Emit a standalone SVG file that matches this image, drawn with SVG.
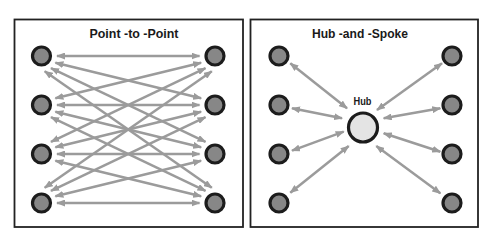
<svg xmlns="http://www.w3.org/2000/svg" width="494" height="239" viewBox="0 0 494 239">
<style>
.frame{fill:#fff;stroke:#222;stroke-width:1.8}
.node{fill:#878787;stroke:#1c1c1c;stroke-width:3.2}
.hub{fill:#e4e4e4;stroke:#1c1c1c;stroke-width:3.2}
.link{stroke:#9b9b9b;stroke-width:2.5;fill:none;marker-start:url(#ah);marker-end:url(#ah)}
.title{font-family:"Liberation Sans",Arial,sans-serif;font-weight:bold;font-size:12.5px;fill:#1a1a1a;text-anchor:middle}
.lbl{font-family:"Liberation Sans",Arial,sans-serif;font-weight:bold;font-size:10.5px;fill:#1a1a1a;text-anchor:middle}
</style>
<defs>
<marker id="ah" viewBox="0 0 9 7" refX="8" refY="3.5" markerWidth="9" markerHeight="7" markerUnits="userSpaceOnUse" orient="auto-start-reverse">
<path d="M0,0 L9,3.5 L0,7 z" fill="#9b9b9b"/>
</marker>
</defs>
<rect width="494" height="239" fill="#fff"/>
<g id="panel-p2p">
<rect class="frame" x="14.5" y="19.5" width="228.5" height="207.5"/>
<text class="title" x="134" y="38" textLength="89" lengthAdjust="spacingAndGlyphs">Point -to -Point</text>
</g>
<g id="panel-hub">
<rect class="frame" x="250.5" y="19.5" width="227.5" height="207.5"/>
<text class="title" x="360" y="38" textLength="96" lengthAdjust="spacingAndGlyphs">Hub -and -Spoke</text>
</g>
<g id="connectors">
<line class="link" x1="57" y1="56" x2="199.5" y2="56"/>
<line class="link" x1="57" y1="105" x2="199.5" y2="105"/>
<line class="link" x1="57" y1="154" x2="199.5" y2="154"/>
<line class="link" x1="57" y1="203" x2="199.5" y2="203"/>
<line class="link" x1="55.4" y1="62.8" x2="201.1" y2="98.2"/>
<line class="link" x1="55.4" y1="111.8" x2="201.1" y2="147.2"/>
<line class="link" x1="55.4" y1="160.8" x2="201.1" y2="196.2"/>
<line class="link" x1="55.4" y1="98.2" x2="201.1" y2="62.8"/>
<line class="link" x1="55.4" y1="147.2" x2="201.1" y2="111.8"/>
<line class="link" x1="55.4" y1="196.2" x2="201.1" y2="160.8"/>
<line class="link" x1="51" y1="68.2" x2="205.5" y2="141.8"/>
<line class="link" x1="51" y1="117.2" x2="205.5" y2="190.8"/>
<line class="link" x1="51" y1="141.8" x2="205.5" y2="68.2"/>
<line class="link" x1="51" y1="190.8" x2="205.5" y2="117.2"/>
<line class="link" x1="44.7" y1="71.2" x2="211.8" y2="187.8"/>
<line class="link" x1="44.7" y1="187.8" x2="211.8" y2="71.2"/>
<line class="link" x1="290.3" y1="63.3" x2="347" y2="108.3"/>
<line class="link" x1="442" y1="63.3" x2="377" y2="110"/>
<line class="link" x1="292" y1="108.3" x2="342" y2="118.3"/>
<line class="link" x1="440.3" y1="108.3" x2="383.7" y2="118.3"/>
<line class="link" x1="292" y1="150.7" x2="343.7" y2="131.7"/>
<line class="link" x1="440.3" y1="151.7" x2="383.7" y2="133.3"/>
<line class="link" x1="290.3" y1="192.7" x2="348.7" y2="146"/>
<line class="link" x1="440.3" y1="193.3" x2="376.3" y2="146"/>
</g>
<g id="p2p-L1"><circle class="node" cx="41.5" cy="56" r="9"/></g>
<g id="p2p-L2"><circle class="node" cx="41.5" cy="105" r="9"/></g>
<g id="p2p-L3"><circle class="node" cx="41.5" cy="154" r="9"/></g>
<g id="p2p-L4"><circle class="node" cx="41.5" cy="203" r="9"/></g>
<g id="p2p-R1"><circle class="node" cx="215" cy="56" r="9"/></g>
<g id="p2p-R2"><circle class="node" cx="215" cy="105" r="9"/></g>
<g id="p2p-R3"><circle class="node" cx="215" cy="154" r="9"/></g>
<g id="p2p-R4"><circle class="node" cx="215" cy="203" r="9"/></g>
<g id="hs-L1"><circle class="node" cx="279" cy="56" r="9"/></g>
<g id="hs-L2"><circle class="node" cx="279" cy="105" r="9"/></g>
<g id="hs-L3"><circle class="node" cx="279" cy="154" r="9"/></g>
<g id="hs-L4"><circle class="node" cx="279" cy="203" r="9"/></g>
<g id="hs-R1"><circle class="node" cx="452" cy="56" r="9"/></g>
<g id="hs-R2"><circle class="node" cx="452" cy="105" r="9"/></g>
<g id="hs-R3"><circle class="node" cx="452" cy="154" r="9"/></g>
<g id="hs-R4"><circle class="node" cx="452" cy="203" r="9"/></g>
<g id="hub">
<circle class="hub" cx="363" cy="127.5" r="14.5"/>
<text class="lbl" x="362.5" y="105" textLength="18" lengthAdjust="spacingAndGlyphs">Hub</text>
</g>
</svg>
